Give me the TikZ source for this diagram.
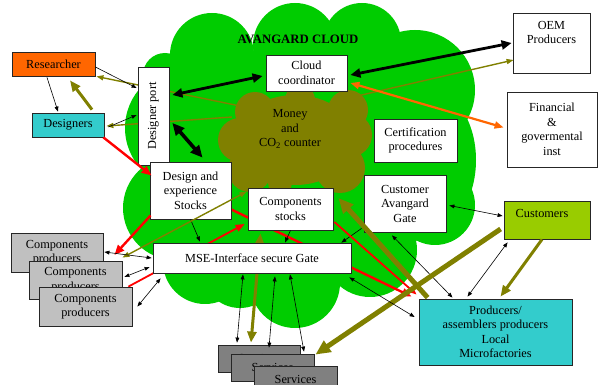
\documentclass[tikz,border=0pt]{standalone}
\usepackage{fontspec}
\setmainfont{Liberation Serif}
\usetikzlibrary{arrows.meta,calc}
\definecolor{cgreen}{HTML}{00CC00}
\definecolor{colive}{HTML}{808000}
\definecolor{corange}{HTML}{FF6600}
\definecolor{ccyan}{HTML}{33CCCC}
\definecolor{cyellowgreen}{HTML}{99CC00}
\definecolor{clgrey}{HTML}{C0C0C0}
\definecolor{cdgrey}{HTML}{808080}
\definecolor{cred}{HTML}{FF0000}
\pgfdeclarelayer{cloudl}
\pgfdeclarelayer{behind}
\pgfsetlayers{cloudl,behind,main}
\tikzset{
  box/.style={draw=black!85, line width=0.8pt, fill=white, inner sep=0pt, align=center},
  lbl/.style={inner sep=0pt, align=center},
  ta/.style={draw=black, line width=0.6pt, >={Triangle[length=5pt,width=3.8pt]}, ->},
  tb/.style={draw=black, line width=0.6pt, >={Triangle[length=5pt,width=3.8pt]}, <->},
  blk/.style={draw=black, line width=2.8pt, >={Triangle[length=10pt,width=9pt]}, <->},
  blkx/.style={draw=black, line width=3.6pt, >={Triangle[length=12pt,width=11pt]}, <->},
  redA/.style={draw=cred, line width=2.4pt, >={Triangle[length=10pt,width=8pt]}, ->},
  redB/.style={draw=cred, line width=1.8pt, >={Triangle[length=9pt,width=7pt]}, ->},
  orA/.style={draw=corange, line width=2.2pt, >={Triangle[length=9pt,width=7pt]}, <->},
  olm/.style={draw=colive, line width=1.4pt, >={Triangle[length=7pt,width=5pt]}},
  olt/.style={draw=colive, line width=3pt, >={Triangle[length=11pt,width=9pt]}},
  olx/.style={draw=colive, line width=5pt, >={Triangle[length=15pt,width=13pt]}}
}
\begin{document}
\begin{tikzpicture}[x=1pt,y=-1pt,font=\fontsize{12.3}{14.5}\selectfont]
\useasboundingbox (0,0) rectangle (598,385);

% ---------- clouds ----------
\begin{pgfonlayer}{cloudl}
\fill[cgreen] (300,165) ellipse [x radius=150, y radius=120];
\fill[cgreen] (165,75) circle (22);
\fill[cgreen] (212,55) circle (42);
\fill[cgreen] (295,45) circle (42);
\fill[cgreen] (362,42) circle (39);
\fill[cgreen] (415,90) circle (60);
\fill[cgreen] (430,160) ellipse [x radius=46, y radius=70];
\fill[cgreen] (435,205) circle (40);
\fill[cgreen] (370,250) circle (47);
\fill[cgreen] (295,283) circle (45);
\fill[cgreen] (240,270) circle (38);
\fill[cgreen] (205,262) circle (42);
\fill[cgreen] (175,208) circle (52);
\fill[cgreen] (185,128) circle (60);
% money cloud
\fill[colive] (295,140) ellipse [x radius=60, y radius=45];
\fill[colive] (255,112) circle (20);
\fill[colive] (240,140) circle (22);
\fill[colive] (250,170) circle (22);
\fill[colive] (340,168) circle (25);
\fill[colive] (350,135) circle (22);
\fill[colive] (348,110) circle (20);
\fill[colive] (300,100) circle (15);
\fill[colive] (280,183) circle (12);
\end{pgfonlayer}

% ---------- nodes ----------
\node[lbl, font=\fontsize{12.8}{15}\selectfont\bfseries] (title) at (298,39) {AVANGARD CLOUD};
\node[lbl] (money) at (290,129) {Money\\and\\CO\textsubscript{2} counter};

\node[box, fill=corange, minimum width=83pt, minimum height=24pt] (res) at (53.5,64) {Researcher};
\node[box, fill=ccyan, minimum width=72pt, minimum height=24pt] (des) at (68,125) {Designers};
\node[box, minimum width=31pt, minimum height=98pt] (port) at (153.5,116) {};
\node[lbl, rotate=90] (portt) at (153.5,116) {Designer port};
\node[box, minimum width=81pt, minimum height=36pt] (cc) at (306.5,73) {Cloud\\coordinator};
\node[box, minimum width=77pt, minimum height=60pt] (oem) at (551.5,43) {};
\node[lbl] (oemt) at (551.5,32.5) {OEM\\Producers};
\node[box, minimum width=90pt, minimum height=75pt] (fin) at (552,129.5) {Financial\\\&\\govermental\\inst};
\node[box, minimum width=83pt, minimum height=43pt] (cert) at (415.5,140.5) {Certification\\procedures};
\node[box, minimum width=82pt, minimum height=57pt] (cag) at (405,203.5) {Customer\\Avangard\\Gate};
\node[box, fill=cyellowgreen, minimum width=86pt, minimum height=38pt] (cust) at (547,220) {};
\node[lbl] (custt) at (542,213) {Customers};
\node[box, minimum width=81pt, minimum height=57pt] (dstock) at (190.5,190.5) {Design and\\experience\\Stocks};
\node[box, minimum width=85pt, minimum height=42pt] (cstock) at (290.5,209) {Components\\stocks};
\node[box, minimum width=198pt, minimum height=30pt] (mse) at (252,258) {MSE-Interface secure Gate};
\node[box, fill=ccyan, minimum width=153pt, minimum height=66pt] (prod) at (495.5,332) {Producers/\\assemblers producers\\Local\\Microfactories};
\node[box, fill=clgrey, minimum width=92pt, minimum height=39pt] (cp1) at (57,252.5) {Components\\producers};
\node[box, fill=clgrey, minimum width=93pt, minimum height=38pt] (cp2) at (75.5,280) {Components\\producers};
\node[box, fill=clgrey, minimum width=93pt, minimum height=39pt] (cp3) at (85.5,306.5) {Components\\producers};
\node[box, fill=cdgrey, minimum width=82pt, minimum height=27pt] (sv1) at (259,358.5) {Services};
\node[box, fill=cdgrey, minimum width=83pt, minimum height=27pt] (sv2) at (272.5,367.5) {Services};
\node[box, fill=cdgrey, minimum width=83pt, minimum height=27pt] (sv3) at (295.5,379.5) {Services};

% ---------- connectors behind boxes ----------
\begin{pgfonlayer}{behind}
\draw[olm,->] ($(money)+(-50,-23)$) -- ($(res.south east)+(1,0)$);
\draw[olm,->] ($(money)+(-58,-12)$) -- ($(des.east)+(2,1)$);
\draw[redA] ($(dstock.east)+(0,19)$) -- ($(prod.north west)+(-7,-2)$);
\draw[redB] ($(cp3.north east)+(-4,0)$) -- ($(cstock.west)+(-3,15)$);
\draw[olt,<->] ($(cstock.south)+(-30,3)$) -- ($(sv1.north)+(-8,-2)$);
\end{pgfonlayer}

% ---------- connectors ----------
\draw[ta] ($(res.east)+(0,3)$) -- ($(port.west)+(-1,-28)$);
\draw[ta] ($(res.south)+(-6.5,1)$) -- ($(des.north)+(-10,-1)$);
\draw[olt,->] ($(des.north)+(24,-3)$) -- ($(res.south)+(16.5,4)$);
\draw[ta] ($(des.east)+(4,2)$) -- ($(port.west)+(-1,-1)$);
\draw[redA] ($(des.south east)+(-1,0)$) -- ($(dstock.west)+(2,-15)$);
\draw[blk] ($(port.east)+(3,-21)$) -- ($(cc.west)+(-3,3)$);
\draw[blkx] ($(port.east)+(3,7)$) -- ($(dstock.north)+(12,-4)$);
\draw[blk] ($(cc.east)+(3,2)$) -- ($(oem.west)+(-1,0)$);
\draw[olm,<->] ($(money)+(63,-32)$) -- ($(oem.west)+(1,17)$);
\draw[orA] ($(cc.east)+(3,10)$) -- ($(fin.west)+(-3,-2)$);
\draw[ta] (dstock.south) -- ($(mse.north)+(-52,-1)$);
\draw[redA] ($(dstock.south west)+(1,-4)$) -- ($(cp1.east)+(11,2.5)$);
\draw[olm,<->] ($(cstock.north west)+(-1,4)$) -- ($(cp2.north east)+(0,-3)$);
\draw[tb] ($(cp1.east)+(1,-0.5)$) -- ($(mse.west)+(-1,0)$);
\draw[tb] ($(cp2.east)+(2,-3)$) -- ($(mse.west)+(-3,9)$);
\draw[tb] ($(cp3.east)+(5,0)$) -- ($(mse.south west)+(8,5)$);
\draw[ta] (cstock.south) -- ($(mse.north)+(33,0)$);
\draw[ta] ($(cag.south west)+(-2,-4)$) -- ($(mse.north east)+(-10,0)$);
\draw[tb] ($(cag.east)+(3,2)$) -- ($(cust.west)+(-1,-4)$);
\draw[tb] ($(cag.south)+(-13,3)$) -- ($(prod.north)+(-43,-1)$);
\draw[tb] ($(cust.south west)+(4,3)$) -- ($(prod.north)+(-28,-2)$);
\draw[olt,->] ($(cust.south)+(-5,0)$) -- ($(prod.north)+(5,-2)$);
\draw[redB] ($(cstock.east)+(1,13)$) -- ($(prod.north west)+(-2,-4)$);
\draw[olx,->] ($(prod.north west)+(9,-1)$) -- ($(cstock.east)+(5,-11)$);
\draw[olx,->] ($(cust.west)+(-3,9)$) -- ($(sv2.north east)+(1,1)$);
\draw[tb] ($(mse.south east)+(-2,4)$) -- ($(prod.west)+(-4,-15)$);
\draw[tb] ($(sv1.north)+(-22,-2)$) -- ($(mse.south)+(-9,1)$);
\draw[tb] ($(sv1.north)+(10,3)$) -- ($(mse.south)+(23,3)$);
\draw[tb] ($(sv2.north)+(31.5,-2)$) -- ($(mse.south)+(38,1)$);
\end{tikzpicture}
\end{document}
